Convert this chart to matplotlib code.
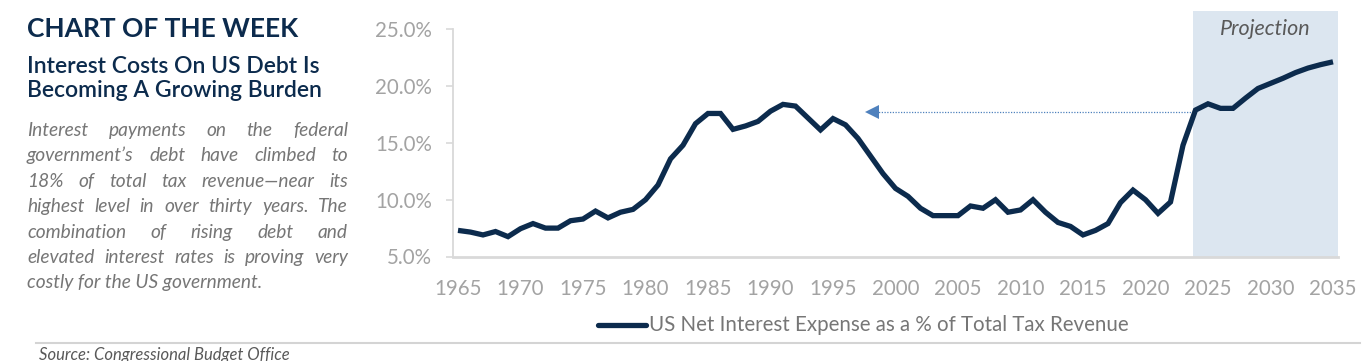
import matplotlib
matplotlib.use("Agg")
import matplotlib.pyplot as plt
import matplotlib.transforms as mtransforms
from matplotlib.lines import Line2D
import numpy as np

# ---------------- data ----------------
years = list(range(1965, 2036))
interest_pct = [7.3, 7.15, 6.9, 7.2, 6.75, 7.45, 7.9, 7.5, 7.5, 8.15,
                8.3, 9.0, 8.4, 8.9, 9.15, 10.0, 11.3, 13.6, 14.8, 16.7,
                17.6, 17.6, 16.2, 16.5, 16.9, 17.8, 18.4, 18.25, 17.2, 16.15,
                17.15, 16.6, 15.4, 13.85, 12.3, 11.0, 10.3, 9.25, 8.6, 8.6,
                8.6, 9.45, 9.25, 10.0, 8.9, 9.1, 10.0, 8.9, 8.0, 7.65,
                6.9, 7.3, 7.9, 9.75, 10.85, 10.0, 8.8, 9.8, 14.8, 17.9,
                18.45, 18.05, 18.05, 18.95, 19.8, 20.25, 20.7, 21.2, 21.6, 21.9,
                22.15]
y_ticks = [5, 10, 15, 20, 25]
x_ticks = list(range(1965, 2036, 5))
projection_start = 2023.8
projection_end = 2035.4
arrow_tip_year = 1997.6
arrow_from_year = 2024

series_label = "US Net Interest Expense as a % of Total Tax Revenue"
title = "CHART OF THE WEEK"
subtitle = ["Interest Costs On US Debt Is", "Becoming A Growing Burden"]
body = ["Interest payments on the federal",
        "government\u2019s debt have climbed to",
        "18% of total tax revenue\u2014near its",
        "highest level in over thirty years. The",
        "combination of rising debt and",
        "elevated interest rates is proving very",
        "costly for the US government."]
source = "Source: Congressional Budget Office"

# ---------------- style ----------------
W, H = 1368, 361
FONT = "Lato"
NAVY = "#0c2b4d"
GRAY_TXT = "#767676"
TICK_GRAY = "#a3a3a3"
AXIS_GRAY = "#d9d9d9"
BAND = "#dce6f0"
ARROW = "#4f81bd"

plt.rcParams["font.family"] = [FONT, "DejaVu Sans"]

fig = plt.figure(figsize=(W / 100, H / 100), dpi=100)
fig.patch.set_facecolor("white")

ax_left, ax_right = 453, 1338
ax_bottom_px, ax_top_px = 256.5, 11.3
ax = fig.add_axes([ax_left / W, 1 - ax_bottom_px / H,
                   (ax_right - ax_left) / W, (ax_bottom_px - ax_top_px) / H])

ax.axvspan(projection_start, projection_end, color=BAND, lw=0, zorder=0)
ax.plot(years, interest_pct, color=NAVY, lw=3.8, solid_joinstyle="miter",
        solid_capstyle="butt", zorder=3)

# arrow annotation at 2024 level
arrow_y = interest_pct[years.index(arrow_from_year)] - 0.15
ax.plot([arrow_tip_year + 0.6, arrow_from_year - 0.15], [arrow_y, arrow_y],
        color=ARROW, lw=0.9, ls=(0, (1, 1.2)), zorder=2)
ax.plot([arrow_tip_year + 0.55], [arrow_y], marker="<", ms=10.5,
        color=ARROW, mew=0, zorder=2)

ax.set_xlim(1964.6, 2035.4)
ax.set_ylim(5, 26.6)
ax.set_yticks(y_ticks)
ax.set_yticklabels([f"{v:.1f}%" for v in y_ticks])
ax.set_xticks(x_ticks)
ax.set_xticklabels([str(v) for v in x_ticks])

for s in ["top", "right"]:
    ax.spines[s].set_visible(False)
ax.spines["left"].set_color(AXIS_GRAY)
ax.spines["left"].set_linewidth(1.3)
ax.spines["left"].set_bounds(5, 25)
ax.spines["bottom"].set_color(AXIS_GRAY)
ax.spines["bottom"].set_linewidth(2)
ax.spines["bottom"].set_zorder(4)

ax.tick_params(axis="y", length=5, width=1.2, color=AXIS_GRAY, pad=10,
               labelsize=14.8, labelcolor=TICK_GRAY)
ax.tick_params(axis="x", length=0, pad=16, labelsize=14.8, labelcolor=TICK_GRAY)

proj_tr = mtransforms.blended_transform_factory(ax.transData, fig.transFigure)
ax.text((projection_start + projection_end) / 2, 1 - 35 / H, "Projection",
        transform=proj_tr, ha="center", va="baseline", fontsize=15.5,
        style="italic", color="#595959")

# ---------------- left text panel ----------------
fig.text(27 / W, 1 - 37 / H, title, fontsize=19, fontweight="bold",
         color=NAVY, va="baseline", ha="left")
for i, line in enumerate(subtitle):
    fig.text(27 / W, 1 - (72.7 + 24.6 * i) / H, line, fontsize=16.5,
             fontweight="semibold", color=NAVY, va="baseline", ha="left")

renderer = fig.canvas.get_renderer()
body_kw = dict(fontsize=13.8, style="italic", color=GRAY_TXT, va="baseline",
               ha="left")
x0, x1 = 27, 348
for i, line in enumerate(body):
    yb = 1 - (136 + 25.4 * i) / H
    if i == len(body) - 1:
        fig.text(x0 / W, yb, line, **body_kw)
        continue
    words = line.split(" ")
    widths = []
    for w in words:
        t = fig.text(0, 0, w, **body_kw)
        widths.append(t.get_window_extent(renderer).width)
        t.remove()
    gap = (x1 - x0 - sum(widths)) / (len(words) - 1)
    x = x0
    for w, wd in zip(words, widths):
        fig.text(x / W, yb, w, **body_kw)
        x += wd + gap

# ---------------- legend ----------------
leg_y = 1 - 325 / H
fig.add_artist(Line2D([598 / W, 646 / W], [leg_y, leg_y], color=NAVY,
                      lw=3.8, solid_capstyle="round"))
fig.text(649 / W, leg_y, series_label, fontsize=14.8, color=GRAY_TXT,
         va="center", ha="left")

# separator and source
fig.add_artist(Line2D([36 / W, 1360 / W], [1 - 343 / H] * 2, color="#d4d4d4",
                      lw=1.5))
fig.text(39 / W, 1 - 360 / H, source, fontsize=12, style="italic",
         color="#595959", va="baseline", ha="left")

fig.savefig("out.png", dpi=100, facecolor="white")
